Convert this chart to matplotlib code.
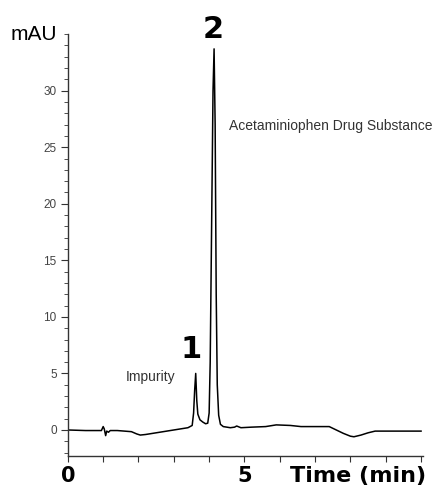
import numpy as np
import matplotlib.pyplot as plt

# chromatogram trace (time in min, absorbance in mAU)
time = [0.0, 0.5, 0.95, 1.0, 1.03, 1.07, 1.1, 1.15, 1.2, 1.4, 1.6, 1.8, 1.95,
        2.05, 2.2, 2.5, 2.8, 3.1, 3.4, 3.52, 3.56, 3.59, 3.62, 3.65, 3.68,
        3.74, 3.82, 3.9, 3.96, 4.0, 4.03, 4.07, 4.11, 4.14, 4.17, 4.2, 4.23,
        4.27, 4.32, 4.4, 4.6, 4.72, 4.78, 4.9, 5.2, 5.6, 5.9, 6.3, 6.6, 7.0,
        7.4, 7.6, 7.8, 8.0, 8.1, 8.3, 8.5, 8.7, 9.0, 9.5, 10.0]
signal = [0.0, -0.05, -0.05, 0.3, 0.1, -0.5, -0.1, -0.2, -0.05, -0.05, -0.1,
          -0.15, -0.35, -0.45, -0.4, -0.25, -0.1, 0.05, 0.2, 0.4, 1.5, 3.5,
          5.0, 2.6, 1.4, 0.9, 0.7, 0.55, 0.6, 1.5, 6.0, 18.0, 30.0, 33.7,
          27.0, 12.0, 4.0, 1.3, 0.5, 0.3, 0.2, 0.25, 0.35, 0.2, 0.25, 0.3,
          0.45, 0.4, 0.3, 0.3, 0.3, 0.0, -0.3, -0.55, -0.6, -0.45, -0.25,
          -0.1, -0.1, -0.1, -0.1]

x_labels = {0: '0', 5: '5'}

fig = plt.figure(figsize=(4.35, 4.88), dpi=100)
ax = fig.add_axes([0.156, 0.0656, 0.816, 0.8644])

ax.plot(time, signal, color='black', lw=1.1)

ax.set_xlim(0, 10.05)
ax.set_ylim(-2.3, 35.0)

for s in ['top', 'right']:
    ax.spines[s].set_visible(False)
for s in ['left', 'bottom']:
    ax.spines[s].set_color('#333333')
    ax.spines[s].set_linewidth(1.0)

# x axis: ticks every minute, only 0 and 5 labelled
ax.set_xticks(np.arange(0, 11, 1))
ax.set_xticklabels([x_labels.get(i, '') for i in range(11)],
                   fontsize=15, fontweight='bold', family='DejaVu Sans')
ax.tick_params(axis='x', direction='out', length=4, color='#333333', pad=3.5)
ax.text(8.22, -4.1, 'Time (min)', fontsize=16, fontweight='bold',
        family='DejaVu Sans', ha='center', va='center', clip_on=False)

# y axis: labelled every 5, small ticks every 1
ax.set_yticks([0, 5, 10, 15, 20, 25, 30])
ax.set_yticks(np.arange(-2, 36, 1), minor=True)
ax.tick_params(axis='y', which='major', direction='out', length=5,
               color='#333333', labelsize=8.5, labelcolor='#444444', pad=3)
ax.tick_params(axis='y', which='minor', direction='out', length=3,
               color='#333333')
for lab in ax.get_yticklabels():
    lab.set_family('Liberation Sans')
ax.text(-0.3, 35.0, 'mAU', fontsize=15, family='Liberation Sans',
        ha='right', va='center', clip_on=False)

# peak annotations
ax.text(3.5, 7.1, '1', fontsize=22, fontweight='bold', family='DejaVu Sans',
        ha='center', va='center')
ax.text(4.11, 35.4, '2', fontsize=22, fontweight='bold', family='DejaVu Sans',
        ha='center', va='center', clip_on=False)
ax.text(2.35, 4.7, 'Impurity', fontsize=10, family='Liberation Sans',
        color='#333333', ha='center', va='center')
ax.text(4.55, 26.9, 'Acetaminiophen Drug Substance', fontsize=10,
        family='Liberation Sans', color='#333333', ha='left', va='center')

fig.savefig('out.png', dpi=100)
